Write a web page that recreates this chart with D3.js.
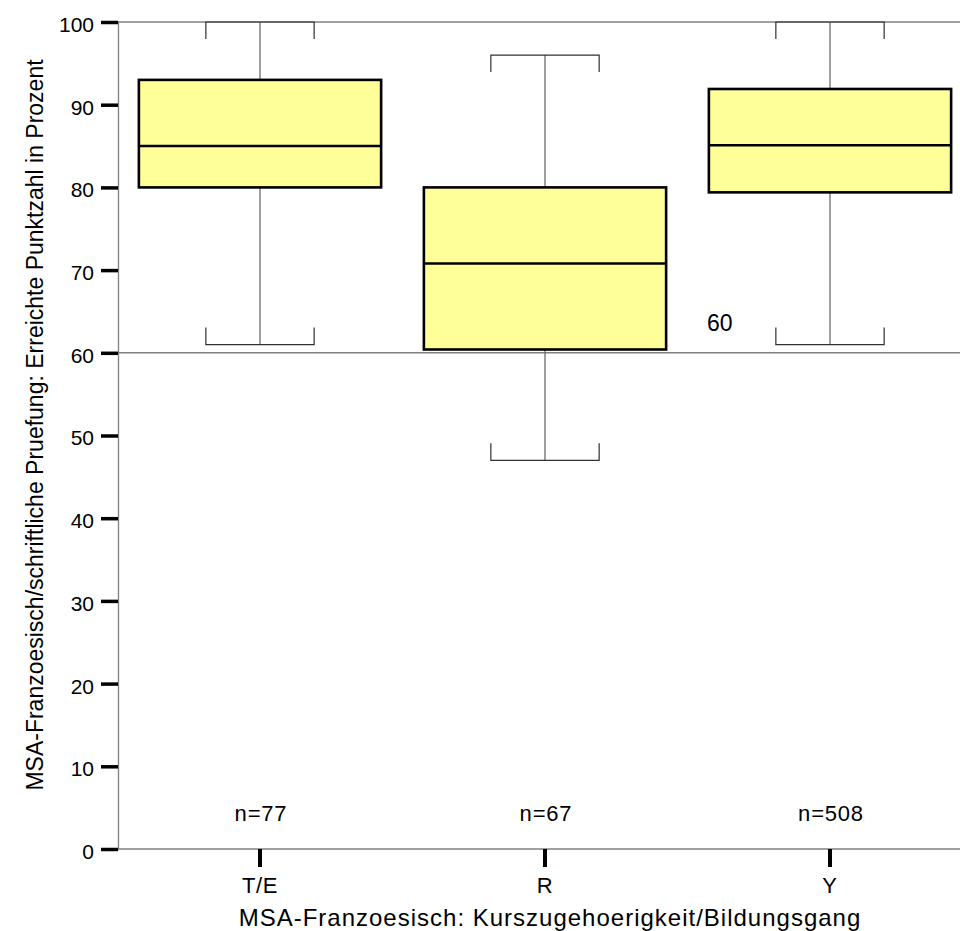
<!DOCTYPE html>
<html>
<head>
<meta charset="utf-8">
<script src="https://cdn.jsdelivr.net/npm/d3@7"></script>
<style>
  body { margin: 0; background: #fff; }
  text { font-family: "Liberation Sans", Arial, sans-serif; fill: #000; }
</style>
</head>
<body>
<svg id="chart" width="960" height="931"></svg>
<script>
// box plot values
var categories = ["T/E", "R", "Y"];
var whiskerLow = [61, 47, 61];
var q1 = [80, 60.4, 79.4];
var median = [85, 70.8, 85.1];
var q3 = [93, 80, 91.9];
var whiskerHigh = [100, 96, 100];
var counts = [77, 67, 508];
var yTicks = [0, 10, 20, 30, 40, 50, 60, 70, 80, 90, 100];
var refValue = 60;

var svg = d3.select("#chart"),
    margin = {top: 22, right: 0, bottom: 82, left: 118},
    width = +svg.attr("width") - margin.left - margin.right,
    height = +svg.attr("height") - margin.top - margin.bottom;

var g = svg.append("g").attr("transform", "translate(" + margin.left + "," + margin.top + ")");

var x = d3.scaleBand().domain(categories).range([-0.5, 854.5]).padding(0),
    y = d3.scaleLinear().domain([0, 100]).range([height, 0]);

var bw = x.bandwidth(),
    boxW = bw * 0.85,
    capW = bw * 0.38,
    capTick = 17;

var boxes = categories.map(function(c, i) {
  return {cat: c, lo: whiskerLow[i], q1: q1[i], med: median[i], q3: q3[i], hi: whiskerHigh[i], n: counts[i]};
});

// frame lines
g.append("line")
    .attr("x1", 0).attr("x2", width)
    .attr("y1", y(100)).attr("y2", y(100))
    .attr("stroke", "#808080").attr("stroke-width", 1.3);

g.append("line")
    .attr("x1", 0).attr("x2", width)
    .attr("y1", y(0)).attr("y2", y(0))
    .attr("stroke", "#808080").attr("stroke-width", 1.3);

// reference line
g.append("line")
    .attr("x1", 0).attr("x2", width)
    .attr("y1", y(refValue)).attr("y2", y(refValue))
    .attr("stroke", "#808080").attr("stroke-width", 1.6);

// y axis
var yAxis = g.append("g")
    .attr("class", "axis axis--y")
    .call(d3.axisLeft(y).tickValues(yTicks).tickSize(17).tickPadding(7));
yAxis.select(".domain").attr("stroke", "#808080").attr("stroke-width", 1.3);
yAxis.selectAll(".tick line").attr("stroke", "#000").attr("stroke-width", 3.5);
yAxis.selectAll(".tick text")
    .attr("dy", "0.45em")
    .style("font", "21px 'Liberation Sans', Arial, sans-serif");

// x axis
var xAxis = g.append("g")
    .attr("class", "axis axis--x")
    .attr("transform", "translate(0," + height + ")")
    .call(d3.axisBottom(x).tickSize(18).tickPadding(10));
xAxis.select(".domain").remove();
xAxis.selectAll(".tick line").attr("stroke", "#000").attr("stroke-width", 4);
xAxis.selectAll(".tick text")
    .style("font", "22px 'Liberation Sans', Arial, sans-serif")
    .style("letter-spacing", "0.6px");

// whiskers
var wg = g.selectAll(".whisker").data(boxes).enter().append("g").attr("class", "whisker");

wg.append("line")
    .attr("x1", function(d) { return x(d.cat) + bw / 2; })
    .attr("x2", function(d) { return x(d.cat) + bw / 2; })
    .attr("y1", function(d) { return y(d.hi); })
    .attr("y2", function(d) { return y(d.lo); })
    .attr("stroke", "#606060").attr("stroke-width", 1.2);

// caps: bracket shape, ends point toward the box
wg.append("path")
    .attr("d", function(d) {
      var cx = x(d.cat) + bw / 2, yh = y(d.hi);
      return "M" + (cx - capW / 2) + "," + (yh + capTick) + "V" + yh + "H" + (cx + capW / 2) + "V" + (yh + capTick);
    })
    .attr("fill", "none").attr("stroke", "#303030").attr("stroke-width", 1.2);

wg.append("path")
    .attr("d", function(d) {
      var cx = x(d.cat) + bw / 2, yl = y(d.lo);
      return "M" + (cx - capW / 2) + "," + (yl - capTick) + "V" + yl + "H" + (cx + capW / 2) + "V" + (yl - capTick);
    })
    .attr("fill", "none").attr("stroke", "#303030").attr("stroke-width", 1.2);

// boxes
g.selectAll(".box").data(boxes).enter().append("rect")
    .attr("class", "box")
    .attr("x", function(d) { return x(d.cat) + (bw - boxW) / 2; })
    .attr("y", function(d) { return y(d.q3); })
    .attr("width", boxW)
    .attr("height", function(d) { return y(d.q1) - y(d.q3); })
    .attr("fill", "#ffff99")
    .attr("stroke", "#000").attr("stroke-width", 2.6);

g.selectAll(".median").data(boxes).enter().append("line")
    .attr("class", "median")
    .attr("x1", function(d) { return x(d.cat) + (bw - boxW) / 2; })
    .attr("x2", function(d) { return x(d.cat) + (bw + boxW) / 2; })
    .attr("y1", function(d) { return y(d.med); })
    .attr("y2", function(d) { return y(d.med); })
    .attr("stroke", "#000").attr("stroke-width", 2.6);

// n labels
g.selectAll(".nlab").data(boxes).enter().append("text")
    .attr("class", "nlab")
    .attr("x", function(d) { return x(d.cat) + bw / 2 + 1; })
    .attr("y", height - 28)
    .attr("text-anchor", "middle")
    .style("font-size", "22px")
    .style("letter-spacing", "0.8px")
    .text(function(d) { return "n=" + d.n; });

// reference value label
g.append("text")
    .attr("x", x("R") + bw / 2 + 162 - margin.left + margin.left)
    .attr("y", y(refValue) - 22)
    .style("font-size", "23px")
    .text(refValue);

// axis titles
svg.append("text")
    .attr("x", 550)
    .attr("y", 926)
    .attr("text-anchor", "middle")
    .style("font-size", "24px")
    .style("letter-spacing", "1px")
    .text("MSA-Franzoesisch: Kurszugehoerigkeit/Bildungsgang");

svg.append("text")
    .attr("transform", "translate(43," + 425 + ") rotate(-90)")
    .attr("text-anchor", "middle")
    .style("font-size", "23px")
    .text("MSA-Franzoesisch/schriftliche Pruefung: Erreichte Punktzahl in Prozent");
</script>
</body>
</html>
